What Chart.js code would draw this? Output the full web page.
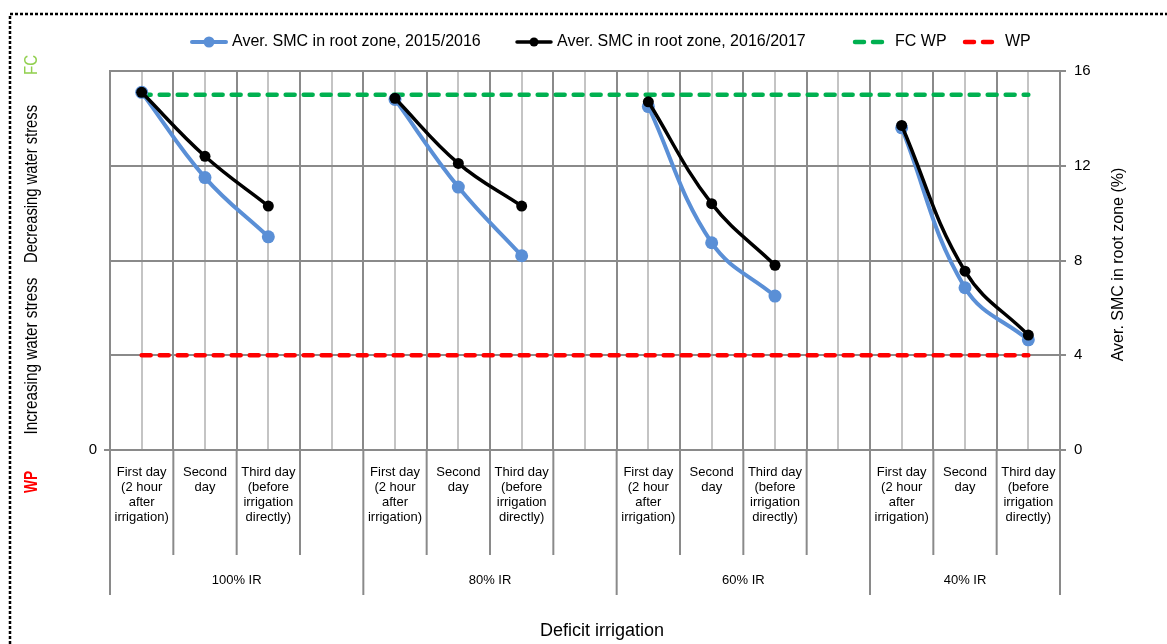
<!DOCTYPE html>
<html lang="en">
<head>
    <meta charset="UTF-8">
    <title>Average SMC in root zone</title>
    <script src="https://cdn.jsdelivr.net/npm/chart.js"></script>
    <style>
        body {
            margin: 0;
            padding: 0;
            background: #ffffff;
        }
        #wrap {
            width: 1167px;
            height: 644px;
        }
    </style>
</head>
<body>
    <div id="wrap">
        <canvas id="smcChart" width="1167" height="644"></canvas>
    </div>

    <script>
        // ---- data ----
        const dayLabels = [
            ['First day', '(2 hour', 'after', 'irrigation)'],
            ['Second', 'day'],
            ['Third day', '(before', 'irrigation', 'directly)']
        ];
        const groupLabels = ['100% IR', '80% IR', '60% IR', '40% IR'];

        // 15 slots: 3 days per group, one empty slot between groups
        const smc2015 = [15.1, 11.5, 9.0, null, 14.8, 11.1, 8.2, null, 14.5, 8.75, 6.5, null, 13.6, 6.85, 4.65];
        const smc2016 = [15.1, 12.4, 10.3, null, 14.85, 12.1, 10.3, null, 14.7, 10.4, 7.8, null, 13.7, 7.55, 4.85];
        const fcLine = [15, 15, 15, 15, 15, 15, 15, 15, 15, 15, 15, 15, 15, 15, 15];
        const wpLine = [4, 4, 4, 4, 4, 4, 4, 4, 4, 4, 4, 4, 4, 4, 4];
        const yTicks = [0, 4, 8, 12, 16];

        // category labels built from the day / group lists
        const catLines = [];
        groupLabels.forEach((g, gi) => {
            dayLabels.forEach(d => catLines.push(d));
            if (gi < groupLabels.length - 1) catLines.push([]);
        });
        const categories = catLines.map(l => l.join(' '));

        const FONT = "'Liberation Sans', Arial, sans-serif";
        const GRID_DARK = '#8a8a8a';
        const GRID_LIGHT = '#c4c4c4';

        // ---- extra drawing: legend, side labels, multi-level category axis ----
        const decorations = {
            id: 'decorations',
            afterDraw(chart) {
                const ctx = chart.ctx;
                const area = chart.chartArea;
                const xs = chart.scales.x;
                const px = i => xs.getPixelForValue(i);

                ctx.save();

                // dotted frame (left + top)
                ctx.strokeStyle = '#000';
                ctx.lineWidth = 2.5;
                ctx.setLineDash([3, 2]);
                ctx.beginPath();
                ctx.moveTo(10, 644);
                ctx.lineTo(10, 14);
                ctx.lineTo(1167, 14);
                ctx.stroke();
                ctx.setLineDash([]);

                // legend
                const legendX = [190, 515, 853, 963];
                const ly = 42;
                ctx.font = '16px ' + FONT;
                ctx.textBaseline = 'middle';
                ctx.textAlign = 'left';
                chart.data.datasets.forEach((ds, i) => {
                    const x0 = legendX[i];
                    ctx.strokeStyle = ds.borderColor;
                    ctx.lineWidth = ds.borderWidth;
                    ctx.lineCap = 'round';
                    ctx.setLineDash(ds.borderDash || []);
                    ctx.beginPath();
                    ctx.moveTo(x0 + 2, ly);
                    ctx.lineTo(x0 + 36, ly);
                    ctx.stroke();
                    ctx.setLineDash([]);
                    if (ds.pointRadius > 0) {
                        ctx.fillStyle = ds.pointBackgroundColor;
                        ctx.beginPath();
                        ctx.arc(x0 + 19, ly, ds.pointRadius - 1, 0, Math.PI * 2);
                        ctx.fill();
                    }
                    ctx.fillStyle = '#000';
                    ctx.fillText(ds.label, x0 + 42, ly);
                });
                ctx.lineCap = 'butt';

                // left side rotated labels (condensed)
                const sideLabels = [
                    { text: 'FC', cy: 65, len: 20, color: '#92d050', bold: false },
                    { text: 'Decreasing water stress', cy: 184, len: 158, color: '#000', bold: false },
                    { text: 'Increasing water stress', cy: 356, len: 157, color: '#000', bold: false },
                    { text: 'WP', cy: 482, len: 22, color: '#ff0000', bold: true }
                ];
                sideLabels.forEach(s => {
                    ctx.save();
                    ctx.font = (s.bold ? 'bold ' : '') + '18px ' + FONT;
                    const w = ctx.measureText(s.text).width;
                    ctx.translate(32, s.cy);
                    ctx.rotate(-Math.PI / 2);
                    ctx.scale(s.len / w, 1);
                    ctx.fillStyle = s.color;
                    ctx.textAlign = 'center';
                    ctx.textBaseline = 'middle';
                    ctx.fillText(s.text, 0, 0);
                    ctx.restore();
                });

                // right axis title (reads bottom to top)
                ctx.save();
                ctx.translate(1119, (area.top + area.bottom) / 2 + 4);
                ctx.rotate(-Math.PI / 2);
                ctx.font = '16px ' + FONT;
                ctx.fillStyle = '#000';
                ctx.textAlign = 'center';
                ctx.textBaseline = 'middle';
                ctx.fillText('Aver. SMC in root zone (%)', 0, 0);
                ctx.restore();

                // category separators under the axis
                const shortEnd = area.bottom + 105;
                const longEnd = area.bottom + 145;
                ctx.strokeStyle = GRID_DARK;
                ctx.lineWidth = 2;
                const vline = (x, y1) => {
                    ctx.beginPath();
                    ctx.moveTo(x, area.bottom);
                    ctx.lineTo(x, y1);
                    ctx.stroke();
                };
                vline(area.left, longEnd);
                const n = categories.length;
                const bounds = [area.left];
                for (let i = 0; i < n; i++) {
                    const xr = i < n - 1 ? (px(i) + px(i + 1)) / 2 : area.right;
                    bounds.push(xr);
                    const isGroupEnd = catLines[i].length === 0 || i === n - 1;
                    vline(xr, isGroupEnd ? longEnd : shortEnd);
                }

                // category texts
                ctx.font = '13px ' + FONT;
                ctx.fillStyle = '#000';
                ctx.textAlign = 'center';
                ctx.textBaseline = 'middle';
                catLines.forEach((lines, i) => {
                    lines.forEach((t, k) => {
                        ctx.fillText(t, px(i), area.bottom + 22 + k * 15);
                    });
                });

                // group texts
                let start = 0;
                let gi = 0;
                for (let i = 0; i < n; i++) {
                    if (catLines[i].length === 0 || i === n - 1) {
                        const cx = (bounds[start] + bounds[i + 1]) / 2;
                        ctx.fillText(groupLabels[gi], cx, area.bottom + 130);
                        gi++;
                        start = i + 1;
                    }
                }

                // x title
                ctx.font = '18px ' + FONT;
                ctx.fillText('Deficit irrigation', 602, 631);

                ctx.restore();
            }
        };

        new Chart(document.getElementById('smcChart').getContext('2d'), {
            type: 'line',
            data: {
                labels: categories,
                datasets: [
                    {
                        label: 'Aver. SMC in root zone, 2015/2016',
                        data: smc2015,
                        yAxisID: 'y2',
                        order: 2,
                        borderColor: '#5a8fd6',
                        backgroundColor: '#5a8fd6',
                        pointBackgroundColor: '#5a8fd6',
                        pointBorderWidth: 0,
                        pointRadius: 6.5,
                        borderWidth: 4,
                        tension: 0.4,
                        spanGaps: false
                    },
                    {
                        label: 'Aver. SMC in root zone, 2016/2017',
                        data: smc2016,
                        yAxisID: 'y2',
                        order: 1,
                        borderColor: '#000000',
                        backgroundColor: '#000000',
                        pointBackgroundColor: '#000000',
                        pointBorderWidth: 0,
                        pointRadius: 5.5,
                        borderWidth: 3.5,
                        tension: 0.4,
                        spanGaps: false
                    },
                    {
                        label: 'FC WP',
                        data: fcLine,
                        yAxisID: 'y2',
                        order: 3,
                        borderColor: '#00b050',
                        backgroundColor: '#00b050',
                        borderWidth: 4.5,
                        borderDash: [9, 9],
                        borderCapStyle: 'round',
                        pointRadius: 0,
                        tension: 0
                    },
                    {
                        label: 'WP',
                        data: wpLine,
                        yAxisID: 'y2',
                        order: 4,
                        borderColor: '#ff0000',
                        backgroundColor: '#ff0000',
                        borderWidth: 4.5,
                        borderDash: [9, 9],
                        borderCapStyle: 'round',
                        pointRadius: 0,
                        tension: 0
                    }
                ]
            },
            options: {
                responsive: false,
                animation: false,
                layout: {
                    padding: { top: 71, left: 0, right: 0, bottom: 0 }
                },
                plugins: {
                    legend: { display: false },
                    tooltip: { enabled: false }
                },
                scales: {
                    x: {
                        type: 'category',
                        offset: true,
                        grid: { offset: true, color: GRID_DARK, lineWidth: 2, drawTicks: false },
                        border: { color: GRID_DARK, width: 2 },
                        ticks: { display: false },
                        afterFit: s => { s.height = 194; }
                    },
                    xc: {
                        type: 'category',
                        position: 'bottom',
                        offset: true,
                        grid: { offset: false, color: GRID_LIGHT, lineWidth: 2, drawTicks: false },
                        border: { display: false },
                        ticks: { display: false },
                        afterFit: s => { s.height = 0; }
                    },
                    y: {
                        position: 'left',
                        min: 0,
                        max: 16,
                        afterBuildTicks: s => { s.ticks = yTicks.map(v => ({ value: v })); },
                        ticks: {
                            callback: v => (v === 0 ? '0' : ''),
                            font: { family: FONT, size: 15 },
                            color: '#000',
                            padding: 7
                        },
                        grid: {
                            drawOnChartArea: false,
                            color: c => (c.tick && c.tick.value === 0 ? GRID_DARK : 'rgba(0,0,0,0)'),
                            lineWidth: 2,
                            tickLength: 6
                        },
                        border: { color: GRID_DARK, width: 2 },
                        afterFit: s => { s.width = 110; }
                    },
                    y2: {
                        position: 'right',
                        min: 0,
                        max: 16,
                        afterBuildTicks: s => { s.ticks = yTicks.map(v => ({ value: v })); },
                        ticks: {
                            font: { family: FONT, size: 15 },
                            color: '#000',
                            padding: 8
                        },
                        grid: { color: GRID_DARK, lineWidth: 2, tickLength: 6 },
                        border: { color: GRID_DARK, width: 2 },
                        afterFit: s => { s.width = 107; }
                    }
                }
            },
            plugins: [decorations]
        });
    </script>
</body>
</html>
